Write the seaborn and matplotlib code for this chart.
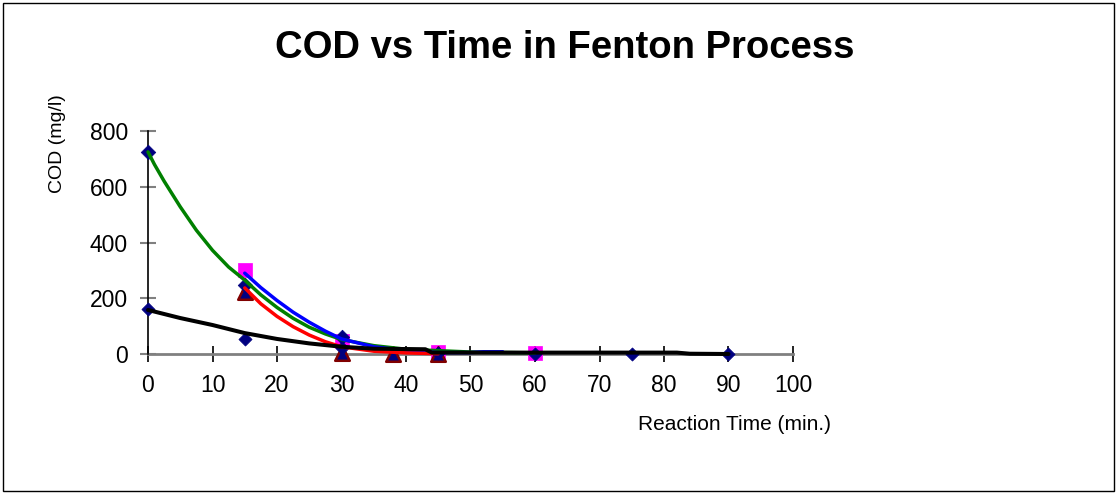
import matplotlib
matplotlib.use("Agg")
import matplotlib.pyplot as plt
import seaborn as sns
import pandas as pd
from matplotlib.patches import Rectangle

# ---- data ----
# marker series
s1_time = [0, 15, 30]
s1_cod = [725, 248, 60]
s2_time = [0, 15, 30, 45, 60, 75, 90]
s2_cod = [160, 55, 20, 5, 0, 0, 0]
s3_time = [15, 30, 45, 60]
s3_cod = [300, 45, 8, 3]
s4_time = [15, 30, 38, 45]
s4_cod = [222, 5, 0, 0]

# fitted curves (read at sample times)
green_t = [0, 1, 2.5, 5, 7.5, 10, 12.5, 15, 17.5, 20, 22.5, 25, 27.5, 30, 35, 40, 50, 60]
green_v = [725, 680, 620, 528, 444, 372, 312, 265, 212, 167, 128, 96, 72, 52, 30, 17, 7, 4]
blue_t = [15, 17.5, 20, 22.5, 25, 27.5, 30, 35, 40, 45, 50, 52, 55]
blue_v = [290, 238, 192, 150, 114, 82, 54, 26, 12, 5, 5, 8, 8]
red_t = [15, 17.5, 20, 22.5, 25, 27.5, 30, 35, 40, 45]
red_v = [237, 180, 135, 98, 68, 44, 26, 10, 4, 1]
black_t = [0, 5, 10, 15, 20, 25, 30, 35, 43, 44, 60, 82, 84, 90]
black_v = [158, 129, 104, 75, 54, 38, 26, 19, 17, 5, 5, 5, 1, 0]

x_ticks = [0, 10, 20, 30, 40, 50, 60, 70, 80, 90, 100]
y_ticks = [0, 200, 400, 600, 800]

sns.set_style("white")
plt.rcParams['font.family'] = ['Liberation Sans', 'DejaVu Sans']
plt.rcParams['text.color'] = 'black'
plt.rcParams['xtick.labelcolor'] = 'black'
plt.rcParams['ytick.labelcolor'] = 'black'

W, H = 1118, 493
fig = plt.figure(figsize=(W / 100, H / 100), dpi=100)
ax = fig.add_axes([148 / W, 1 - 354 / H, 645 / W, 223 / H])

navy = "#000080"
lw = 2.5
for t, v, c in [(green_t, green_v, "#008000"), (blue_t, blue_v, "#0000FF"),
                (red_t, red_v, "#FF0000")]:
    sns.lineplot(x=t, y=v, ax=ax, color=c, linewidth=lw, clip_on=False, zorder=3)

# markers
sns.scatterplot(x=s3_time, y=s3_cod, ax=ax, marker="s", s=90, color="#FF00FF",
                edgecolor="#FF00FF", linewidth=0.5, clip_on=False, zorder=2)
sns.scatterplot(x=s4_time, y=s4_cod, ax=ax, marker="^", s=110, color=navy,
                edgecolor="#800000", linewidth=1.8, clip_on=False, zorder=2.5)
sns.scatterplot(x=s1_time, y=s1_cod, ax=ax, marker="D", s=55, color=navy,
                edgecolor=navy, linewidth=0.5, clip_on=False, zorder=2.6)
sns.scatterplot(x=s2_time, y=s2_cod, ax=ax, marker="D", s=45, color=navy,
                edgecolor=navy, linewidth=0.5, clip_on=False, zorder=2.6)

sns.lineplot(x=black_t, y=black_v, ax=ax, color="black", linewidth=lw + 0.4,
             clip_on=False, zorder=4)

ax.set_xlim(0, 100)
ax.set_ylim(0, 800)
ax.set_xticks(x_ticks)
ax.set_yticks(y_ticks)
ax.set_xticklabels([str(v) for v in x_ticks], fontsize=16.5, color="black")
ax.set_yticklabels([str(v) for v in y_ticks], fontsize=16.5, color="black")
ax.tick_params(axis="x", direction="inout", length=11, width=1.2, color="black", pad=9,
               bottom=True)
ax.tick_params(axis="y", direction="inout", length=11, width=1.5, color="#808080", pad=9,
               left=True)
for s in ["top", "right"]:
    ax.spines[s].set_visible(False)
ax.spines["left"].set_color("black")
ax.spines["left"].set_linewidth(1.2)
ax.spines["bottom"].set_color("#808080")
ax.spines["bottom"].set_linewidth(2)
ax.spines["bottom"].set_zorder(1)
ax.set_facecolor("white")
ax.grid(False)
ax.set_xlabel("")
ax.set_ylabel("")

fig.text(565 / W, 1 - 48 / H, "COD vs Time in Fenton Process", ha="center", va="center",
         fontsize=27.5, fontweight="bold", color="black")
fig.text(58 / W, 1 - 144 / H, "COD (mg/l)", rotation=90, ha="center", va="center",
         fontsize=14, color="black")
fig.text(735 / W, 1 - 425 / H, "Reaction Time (min.)", ha="center", va="center",
         fontsize=15, color="black")

fig.patches.append(Rectangle((3 / W, 2 / H), 1 - 7 / W, 1 - 5 / H, transform=fig.transFigure,
                             fill=False, edgecolor="black", linewidth=1))

fig.savefig("out.png", dpi=100)
